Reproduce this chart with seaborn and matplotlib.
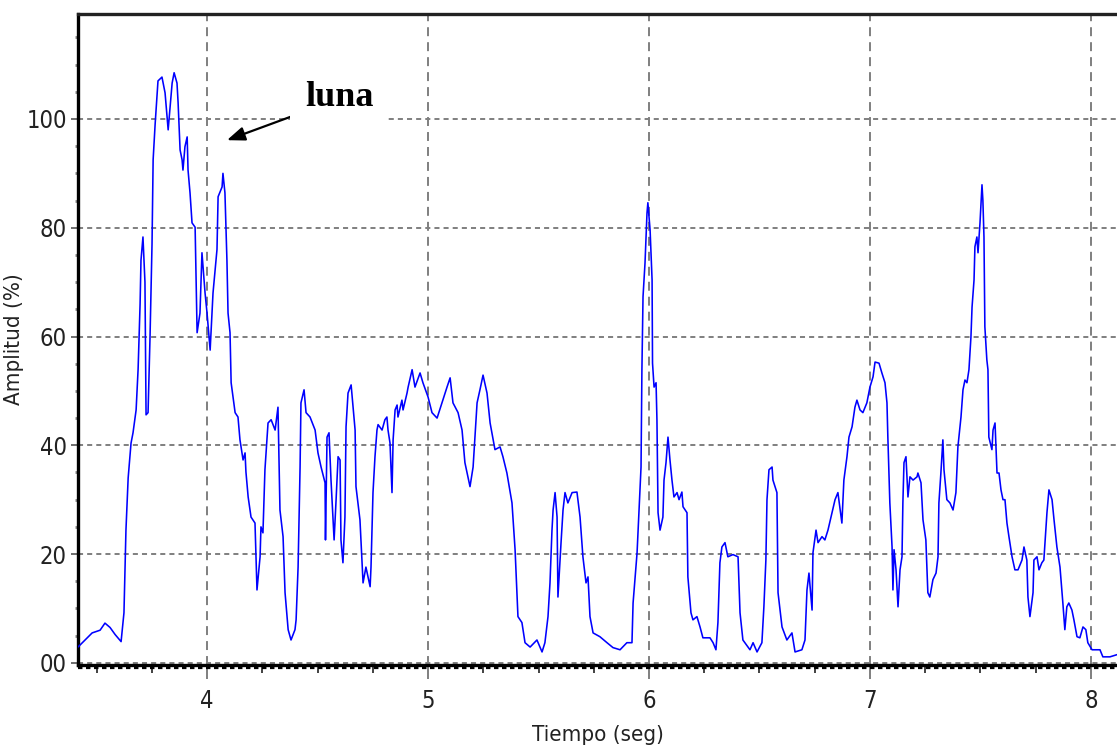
import numpy as np
import pandas as pd
import matplotlib
matplotlib.use("Agg")
import matplotlib.pyplot as plt
import seaborn as sns
from matplotlib.ticker import MultipleLocator

# ---- data ----
tiempo = [3.416, 3.443, 3.480, 3.516, 3.538, 3.561, 3.584, 3.611, 3.624, 3.633, 3.643, 3.656, 3.665,
          3.679, 3.688, 3.697, 3.701, 3.710, 3.719, 3.724, 3.733, 3.742, 3.751, 3.756, 3.765, 3.778,
          3.796, 3.810, 3.824, 3.842, 3.851, 3.864, 3.869, 3.878, 3.887, 3.891, 3.900, 3.910, 3.914,
          3.923, 3.932, 3.946, 3.955, 3.968, 3.977, 3.991, 4.000, 4.014, 4.027, 4.045, 4.050, 4.068,
          4.072, 4.081, 4.090, 4.095, 4.104, 4.109, 4.127, 4.140, 4.149, 4.163, 4.172, 4.176, 4.186,
          4.199, 4.217, 4.226, 4.240, 4.244, 4.253, 4.262, 4.276, 4.290, 4.308, 4.321, 4.330, 4.344,
          4.353, 4.367, 4.380, 4.398, 4.403, 4.412, 4.421, 4.425, 4.439, 4.448, 4.466, 4.489, 4.502,
          4.516, 4.534, 4.536, 4.543, 4.552, 4.561, 4.575, 4.584, 4.593, 4.602, 4.606, 4.615, 4.624,
          4.629, 4.638, 4.652, 4.661, 4.670, 4.674, 4.692, 4.706, 4.719, 4.738, 4.742, 4.751, 4.760,
          4.769, 4.774, 4.792, 4.805, 4.814, 4.819, 4.828, 4.837, 4.842, 4.851, 4.860, 4.864, 4.882,
          4.887, 4.905, 4.910, 4.928, 4.941, 4.964, 4.977, 5.000, 5.018, 5.041, 5.063, 5.086, 5.100,
          5.113, 5.136, 5.154, 5.167, 5.190, 5.204, 5.222, 5.235, 5.249, 5.267, 5.281, 5.303, 5.326,
          5.339, 5.357, 5.380, 5.394, 5.407, 5.425, 5.439, 5.462, 5.493, 5.516, 5.529, 5.543, 5.552,
          5.561, 5.566, 5.575, 5.584, 5.588, 5.602, 5.611, 5.620, 5.633, 5.652, 5.674, 5.688, 5.701,
          5.715, 5.724, 5.733, 5.747, 5.778, 5.810, 5.837, 5.869, 5.900, 5.923, 5.928, 5.946, 5.955,
          5.964, 5.968, 5.973, 5.982, 5.991, 5.995, 6.005, 6.014, 6.016, 6.023, 6.032, 6.036, 6.041,
          6.050, 6.063, 6.068, 6.077, 6.086, 6.095, 6.104, 6.113, 6.127, 6.136, 6.149, 6.154, 6.172,
          6.176, 6.190, 6.199, 6.217, 6.231, 6.244, 6.276, 6.290, 6.303, 6.312, 6.321, 6.330, 6.344,
          6.357, 6.380, 6.403, 6.412, 6.425, 6.457, 6.471, 6.489, 6.511, 6.520, 6.529, 6.534, 6.543,
          6.557, 6.561, 6.579, 6.584, 6.602, 6.624, 6.647, 6.661, 6.692, 6.706, 6.715, 6.724, 6.738,
          6.742, 6.756, 6.765, 6.783, 6.796, 6.810, 6.828, 6.842, 6.855, 6.873, 6.882, 6.896, 6.905,
          6.919, 6.932, 6.941, 6.955, 6.968, 6.986, 7.000, 7.014, 7.023, 7.041, 7.054, 7.068, 7.077,
          7.081, 7.090, 7.100, 7.104, 7.109, 7.118, 7.127, 7.136, 7.145, 7.149, 7.154, 7.163, 7.172,
          7.181, 7.195, 7.213, 7.217, 7.231, 7.240, 7.253, 7.262, 7.271, 7.285, 7.299, 7.308, 7.312,
          7.321, 7.330, 7.335, 7.348, 7.362, 7.376, 7.389, 7.398, 7.412, 7.421, 7.430, 7.439, 7.448,
          7.457, 7.462, 7.471, 7.475, 7.484, 7.489, 7.498, 7.507, 7.511, 7.516, 7.520, 7.529, 7.534,
          7.538, 7.552, 7.557, 7.566, 7.575, 7.584, 7.593, 7.602, 7.611, 7.620, 7.629, 7.643, 7.656,
          7.670, 7.688, 7.697, 7.710, 7.715, 7.724, 7.738, 7.742, 7.756, 7.765, 7.778, 7.787, 7.801,
          7.810, 7.824, 7.833, 7.846, 7.860, 7.873, 7.882, 7.891, 7.900, 7.914, 7.923, 7.937, 7.950,
          7.964, 7.977, 7.986, 8.005, 8.041, 8.054, 8.086, 8.118]

amplitud = [2.9, 4.0, 5.5, 6.0, 7.3, 6.5, 5.2, 3.9, 9.2, 24.4, 34.0, 40.4, 42.3,
            46.5, 54.0, 66.0, 74.0, 78.3, 70.0, 45.6, 46.0, 60.0, 77.0, 92.5, 99.0, 107.0,
            107.7, 104.8, 98.0, 106.6, 108.5, 106.6, 103.0, 94.3, 92.5, 90.6, 94.9, 96.7, 90.6,
            86.4, 80.9, 80.1, 60.7, 64.3, 75.4, 68.0, 64.3, 57.5, 68.0, 76.0, 85.7, 87.5,
            90.0, 86.4, 74.0, 64.3, 60.7, 51.5, 46.0, 45.2, 41.0, 37.3, 38.6, 35.1, 30.5,
            26.8, 25.7, 13.4, 19.5, 25.0, 23.9, 35.5, 44.1, 44.7, 42.8, 47.0, 28.1, 23.2,
            12.9, 6.1, 4.2, 6.1, 7.9, 17.6, 36.0, 47.8, 50.2, 46.0, 45.2, 42.8, 38.6,
            36.0, 33.1, 22.6, 41.5, 42.3, 33.6, 22.6, 30.0, 37.9, 37.3, 22.6, 18.4, 26.8,
            43.4, 49.6, 51.1, 47.0, 42.8, 32.4, 26.3, 14.7, 17.6, 14.0, 17.6, 31.3, 37.9,
            42.8, 43.8, 42.8, 44.7, 45.2, 42.8, 40.4, 31.3, 41.0, 46.5, 47.4, 45.2, 48.3,
            46.5, 49.6, 50.7, 53.9, 50.7, 53.3, 51.5, 48.9, 46.0, 45.0, 47.8, 50.7, 52.4,
            47.8, 46.0, 42.8, 36.8, 32.4, 36.0, 47.8, 50.2, 52.9, 49.6, 44.1, 39.2, 39.7,
            37.9, 34.9, 29.4, 20.8, 8.5, 7.4, 3.7, 2.9, 4.2, 2.0, 3.7, 8.5, 14.7,
            24.4, 28.1, 31.3, 26.8, 12.1, 22.1, 28.1, 31.3, 29.4, 31.3, 31.4, 26.8, 19.5,
            14.7, 15.8, 8.5, 5.5, 4.8, 3.7, 2.8, 2.4, 3.7, 3.7, 11.0, 20.2, 28.1,
            36.0, 53.9, 67.3, 73.5, 82.7, 84.6, 79.6, 70.4, 55.1, 50.7, 51.5, 44.7, 27.6,
            24.4, 26.8, 33.6, 36.8, 41.5, 37.3, 33.6, 30.5, 31.3, 30.0, 31.4, 28.7, 27.6,
            15.8, 9.2, 7.9, 8.5, 6.6, 4.6, 4.6, 3.7, 2.4, 7.4, 18.4, 21.3, 22.1,
            19.5, 19.9, 19.5, 9.2, 4.2, 2.4, 3.7, 2.0, 3.7, 10.3, 18.9, 30.0, 35.5,
            36.0, 33.6, 31.3, 12.9, 6.6, 4.2, 5.5, 2.0, 2.4, 4.2, 13.4, 16.5, 9.7,
            20.2, 24.4, 22.1, 23.2, 22.6, 24.4, 27.6, 30.0, 31.3, 25.7, 33.6, 37.9, 41.5,
            43.4, 47.0, 48.3, 46.5, 46.0, 47.8, 50.7, 52.6, 55.3, 55.1, 53.3, 51.5, 47.8,
            41.5, 29.4, 21.3, 13.4, 20.8, 17.1, 10.3, 17.1, 19.5, 29.4, 36.8, 37.9, 30.5,
            34.2, 33.6, 34.2, 34.9, 33.1, 26.3, 22.6, 12.9, 12.1, 15.3, 16.5, 19.5, 29.4,
            34.9, 41.0, 35.5, 30.0, 29.4, 28.1, 31.3, 39.7, 45.2, 50.2, 52.0, 51.5, 53.9,
            59.9, 65.4, 70.4, 76.5, 78.3, 75.4, 80.9, 87.9, 85.1, 78.3, 61.8, 55.7, 53.9,
            41.5, 39.2, 42.8, 44.1, 34.9, 34.9, 31.8, 30.0, 30.0, 25.7, 23.2, 19.5, 17.1,
            17.1, 18.9, 21.3, 18.9, 12.1, 8.5, 12.9, 18.9, 19.5, 17.1, 18.4, 18.9, 27.6,
            31.8, 30.0, 26.3, 21.3, 17.6, 11.0, 6.1, 10.3, 11.0, 9.7, 7.9, 4.8, 4.6,
            6.6, 6.1, 3.7, 2.4, 2.4, 1.1, 1.1, 1.5]

x_ticks = [4, 5, 6, 7, 8]
x_tick_labels = ["4", "5", "6", "7", "8"]
y_ticks = [0, 20, 40, 60, 80, 100]
y_tick_labels = ["00", "20", "40", "60", "80", "100"]
annot_text = "luna"
annot_tip = (4.090, 96.1)
annot_tail = (4.398, 100.7)
annot_text_pos = (4.443, 104.0)

df = pd.DataFrame({"Tiempo": tiempo, "Amplitud": amplitud})

# ---- style ----
sns.set_theme(style="white")
plt.rcParams["font.family"] = ["DejaVu Sans", "Liberation Sans"]
plt.rcParams["font.stretch"] = "condensed"

W, H = 1117, 756
fig = plt.figure(figsize=(W / 100, H / 100), dpi=100)
ax = fig.add_axes([78 / W, 1 - 665 / H, (W - 78) / W, (665 - 14) / H])

sns.lineplot(data=df, x="Tiempo", y="Amplitud", ax=ax, color="#0000ff",
             linewidth=1.15, estimator=None, sort=False, zorder=3)

ax.set_xlim(3.416, 8.118)
ax.set_ylim(-0.4, 119.3)

ax.set_xticks(x_ticks)
ax.set_xticklabels(x_tick_labels)
ax.set_yticks(y_ticks)
ax.set_yticklabels(y_tick_labels)
ax.xaxis.grid(True, color="#7f7f7f", linewidth=1.4, linestyle=(0, (4.6, 3.1)))
ax.yaxis.grid(True, color="#7f7f7f", linewidth=1.4, linestyle=(0, (2.6, 2.1)))
ax.set_axisbelow(True)

ax.xaxis.set_minor_locator(MultipleLocator(0.25))
ax.yaxis.set_minor_locator(MultipleLocator(5))

ax.tick_params(axis="x", which="major", direction="out", length=10, width=1.4,
               color="#7f7f7f", pad=7, labelsize=17, labelcolor="#222222")
ax.tick_params(axis="x", which="minor", direction="out", length=6, width=1.3,
               color="#333333")
ax.tick_params(axis="y", which="major", direction="out", length=5, width=1.2,
               color="#555555", pad=3, labelsize=17, labelcolor="#222222")
ax.tick_params(axis="y", which="minor", direction="out", length=2, width=2,
               color="#888888")
ax.tick_params(bottom=True, left=True, which="both")

for s in ["left", "bottom"]:
    ax.spines[s].set_color("black")
    ax.spines[s].set_linewidth(2.4)
ax.spines["top"].set_color("#222222")
ax.spines["top"].set_linewidth(2.4)
ax.spines["right"].set_visible(False)

# hatched band directly under the bottom spine
ax.plot([0, 1], [-0.0045, -0.0045], transform=ax.transAxes, clip_on=False,
        color="black", linewidth=1.6, linestyle=(0, (2.0, 1.6)), zorder=5)

ax.set_xlabel("Tiempo (seg)", fontsize=16, color="#222222", labelpad=9)
ax.set_ylabel("Amplitud (%)", fontsize=16, color="#222222")
ax.yaxis.set_label_coords(-0.052, 0.5)

# annotation
ax.annotate("", xy=annot_tip, xytext=annot_tail,
            arrowprops=dict(arrowstyle="-|>,head_length=0.9,head_width=0.35",
                            color="black", lw=1.6, shrinkA=0, shrinkB=0), zorder=6)
ax.text(annot_text_pos[0], annot_text_pos[1], annot_text, ha="left", va="center",
        fontsize=26, fontweight="bold", family=["Liberation Serif", "DejaVu Serif"],
        fontstretch="normal", color="black", zorder=6,
        bbox=dict(boxstyle="square,pad=0.4", facecolor="white", edgecolor="none"))

fig.savefig("out.png", dpi=100)
